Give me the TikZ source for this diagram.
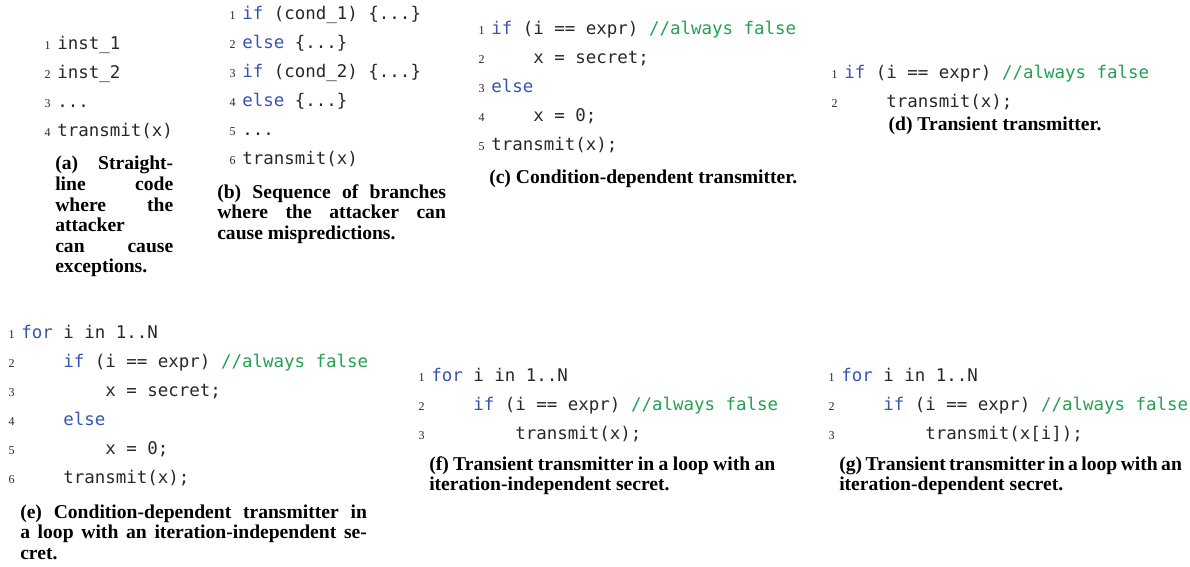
\documentclass[tikz,border=0pt]{standalone}
\usepackage{fontspec}
\setmainfont{Liberation Serif}
\newfontfamily\codefont{DejaVu Sans Mono}
\usepackage{xcolor}
\usetikzlibrary{positioning}
\definecolor{kwblue}{RGB}{55,85,170}
\definecolor{cmgreen}{RGB}{35,160,80}
\definecolor{txtgray}{RGB}{40,40,40}
\newcommand{\kw}[1]{\textcolor{kwblue}{#1}}
\newcommand{\cm}[1]{\textcolor{cmgreen}{#1}}
\newcommand{\riga}[2]{\makebox[#1pt][s]{#2}}

\begin{document}
\begin{tikzpicture}[x=0.75pt, y=-0.75pt,
    num/.style={anchor=base east, inner sep=0pt, text=txtgray, font=\fontsize{9}{10}\selectfont},
    codice/.style={anchor=base west, inner sep=0pt, text=txtgray, font=\codefont\fontsize{13.1}{15}\selectfont},
    didascalia/.style={anchor=base west, inner sep=0pt, font=\bfseries\fontsize{14.7}{16}\selectfont}]
    % Parametri
    \pgfmathsetmacro{\passo}{29}
    \pgfmathsetmacro{\ind}{42}
    \pgfmathsetmacro{\rig}{20.5}
    \useasboundingbox (0,0) rectangle (1190,567);

    % (a)
    \begin{scope}[shift={(57,50)}]
        \foreach \n in {1,...,4}
            \node[num] (a-n\n) at (-6,{(\n-1)*\passo}) {\n};
        \node[codice] (a-c1) at (0,0) {inst\_1};
        \node[codice] (a-c2) at (0,\passo) {inst\_2};
        \node[codice] (a-c3) at (0,2*\passo) {...};
        \node[codice] (a-c4) at (0,3*\passo) {transmit(x)};
    \end{scope}
    \node[didascalia] (a-d1) at (55,170) {\riga{88.5}{(a) Straight-}};
    \node[didascalia] (a-d2) at (55,{170+\rig}) {\riga{88.5}{line code}};
    \node[didascalia] (a-d3) at (55,{170+2*\rig}) {\riga{88.5}{where the}};
    \node[didascalia] (a-d4) at (55,{170+3*\rig}) {attacker};
    \node[didascalia] (a-d5) at (55,{170+4*\rig}) {\riga{88.5}{can cause}};
    \node[didascalia] (a-d6) at (55,{170+5*\rig}) {exceptions.};

    % (b)
    \begin{scope}[shift={(242,20)}]
        \foreach \n in {1,...,6}
            \node[num] (b-n\n) at (-6,{(\n-1)*\passo}) {\n};
        \node[codice] (b-c1) at (0,0) {\kw{if} (cond\_1) \{...\}};
        \node[codice] (b-c2) at (0,\passo) {\kw{else} \{...\}};
        \node[codice] (b-c3) at (0,2*\passo) {\kw{if} (cond\_2) \{...\}};
        \node[codice] (b-c4) at (0,3*\passo) {\kw{else} \{...\}};
        \node[codice] (b-c5) at (0,4*\passo) {...};
        \node[codice] (b-c6) at (0,5*\passo) {transmit(x)};
    \end{scope}
    \node[didascalia] (b-d1) at (217,198) {\riga{171.5}{(b) Sequence of branches}};
    \node[didascalia] (b-d2) at (217,{198+\rig}) {\riga{171.5}{where the attacker can}};
    \node[didascalia] (b-d3) at (217,{198+2*\rig}) {cause mispredictions.};

    % (c)
    \begin{scope}[shift={(491,35)}]
        \foreach \n in {1,...,5}
            \node[num] (c-n\n) at (-6,{(\n-1)*\passo}) {\n};
        \node[codice] (c-c1) at (0,0) {\kw{if} (i == expr) \cm{//always false}};
        \node[codice] (c-c2) at (\ind,\passo) {x = secret;};
        \node[codice] (c-c3) at (0,2*\passo) {\kw{else}};
        \node[codice] (c-c4) at (\ind,3*\passo) {x = 0;};
        \node[codice] (c-c5) at (0,4*\passo) {transmit(x);};
    \end{scope}
    \node[didascalia] (c-d1) at (489,184) {(c) Condition-dependent transmitter.};

    % (d)
    \begin{scope}[shift={(844,79)}]
        \foreach \n in {1,2}
            \node[num] (d-n\n) at (-6,{(\n-1)*\passo}) {\n};
        \node[codice] (d-c1) at (0,0) {\kw{if} (i == expr) \cm{//always false}};
        \node[codice] (d-c2) at (\ind,\passo) {transmit(x);};
    \end{scope}
    \node[didascalia, anchor=base] (d-d1) at (995,131) {(d) Transient transmitter.};

    % (e)
    \begin{scope}[shift={(21,338)}]
        \foreach \n in {1,...,6}
            \node[num] (e-n\n) at (-6,{(\n-1)*\passo}) {\n};
        \node[codice] (e-c1) at (0,0) {\kw{for} i in 1..N};
        \node[codice] (e-c2) at (\ind,\passo) {\kw{if} (i == expr) \cm{//always false}};
        \node[codice] (e-c3) at (2*\ind,2*\passo) {x = secret;};
        \node[codice] (e-c4) at (\ind,3*\passo) {\kw{else}};
        \node[codice] (e-c5) at (2*\ind,4*\passo) {x = 0;};
        \node[codice] (e-c6) at (\ind,5*\passo) {transmit(x);};
    \end{scope}
    \node[didascalia] (e-d1) at (20,518) {\riga{260}{(e) Condition-dependent transmitter in}};
    \node[didascalia] (e-d2) at (20,{518+\rig}) {\riga{260}{a loop with an iteration-independent se-}};
    \node[didascalia] (e-d3) at (20,{518+2*\rig}) {cret.};

    % (f)
    \begin{scope}[shift={(431,381)}]
        \foreach \n in {1,...,3}
            \node[num] (f-n\n) at (-6,{(\n-1)*\passo}) {\n};
        \node[codice] (f-c1) at (0,0) {\kw{for} i in 1..N};
        \node[codice] (f-c2) at (\ind,\passo) {\kw{if} (i == expr) \cm{//always false}};
        \node[codice] (f-c3) at (2*\ind,2*\passo) {transmit(x);};
    \end{scope}
    \node[didascalia] (f-d1) at (429,470) {\riga{259.5}{(f) Transient transmitter in a loop with an}};
    \node[didascalia] (f-d2) at (429,{470+\rig}) {iteration-independent secret.};

    % (g)
    \begin{scope}[shift={(841,381)}]
        \foreach \n in {1,...,3}
            \node[num] (g-n\n) at (-6,{(\n-1)*\passo}) {\n};
        \node[codice] (g-c1) at (0,0) {\kw{for} i in 1..N};
        \node[codice] (g-c2) at (\ind,\passo) {\kw{if} (i == expr) \cm{//always false}};
        \node[codice] (g-c3) at (2*\ind,2*\passo) {transmit(x[i]);};
    \end{scope}
    \node[didascalia] (g-d1) at (839,470) {\riga{257}{(g) Transient transmitter in a loop with an}};
    \node[didascalia] (g-d2) at (839,{470+\rig}) {iteration-dependent secret.};
\end{tikzpicture}
\end{document}
